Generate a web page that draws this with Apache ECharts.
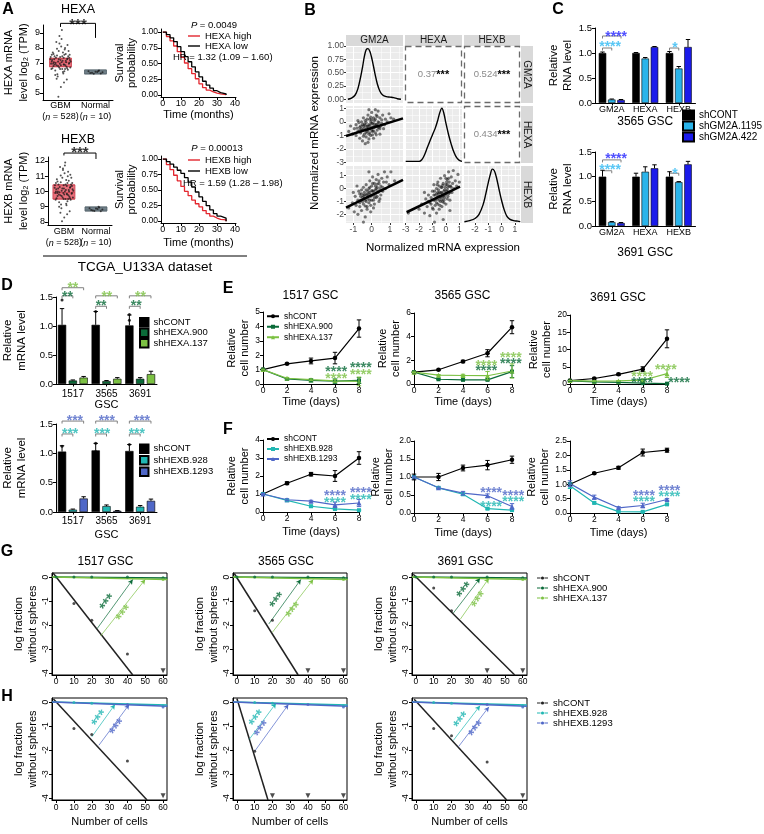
<!DOCTYPE html>
<html><head><meta charset="utf-8">
<script src="https://cdn.jsdelivr.net/npm/echarts@6/dist/echarts.min.js"></script>
<style>html,body{margin:0;padding:0;background:#fff}#c{width:764px;height:834px}</style>
</head><body><div id="c"></div>
<script>
// ======================= DATA =======================
// ---- A: TCGA boxplots ----
const boxCategories = ['GBM', 'Normal'];
const boxCounts = ['528', '10'];
const hexaGbmBox = [6.75, 6.75, 7.05, 7.31, 7.31];
const hexaNormalBox = [6.27, 6.27, 6.4, 6.53, 6.53];
const hexbGbmBox = [9.5, 9.5, 9.92, 10.43, 10.43];
const hexbNormalBox = [8.72, 8.72, 8.84, 8.98, 8.98];
const hexaGbmJitter = [[-0.25,7.1],[0.1,6.9],[0.2,7.3],[-0.1,7.5],[0.05,6.6],[-0.2,6.8],[0.25,7.0],[0,7.2],[-0.05,7.8],[0.15,7.6],[-0.15,6.5],[0.08,6.3],[-0.28,7.4],[0.28,6.7],[0.02,8.1],[-0.12,8.4],[0.18,5.9],[-0.08,6.1],[0.12,7.9],[-0.22,7.7],[0.22,7.45],[-0.02,6.95],[0.06,7.15],[-0.18,7.25],[0.14,6.85],[0.04,9.2],[-0.03,8.8],[0.01,5.4],[-0.06,4.75],[0.1,5.7],[0.2,8.2],[-0.26,6.6],[0.26,7.55],[-0.14,7.0],[0.16,7.05],[-0.04,6.7],[0.09,7.35],[-0.1,7.95],[0.11,6.45],[-0.2,7.6],[0.03,8.6],[-0.09,6.25],[0.24,6.95],[-0.24,7.2],[0.07,7.7],[-0.16,6.9],[0.19,7.25],[-0.01,7.4],[0.13,6.6],[-0.07,7.1],
  [-0.27,6.95],[0.27,7.2],[-0.19,7.05],[0.17,6.75],[-0.11,6.85],[0.05,7.45],[-0.23,6.65],[0.21,6.55],[-0.13,7.35],[0.09,6.9],[-0.01,6.6],[0.29,7.1],[-0.29,7.25],[0.03,7.05],[-0.17,7.45],[0.15,7.15],[-0.07,6.8],[0.25,7.35],[-0.21,6.95],[0.11,7.55],[0.01,6.85],[-0.25,7.55],[0.19,6.65],[-0.05,7.25],[0.07,6.4],[-0.15,6.2],[0.13,8.0],[-0.11,5.95],[0.23,7.8],[-0.03,8.3]];
const hexaNormalJitter = [[-0.1,6.35],[0.05,6.4],[0.15,6.3],[-0.2,6.45],[0.1,6.5],[-0.05,6.28],[0.2,6.38],[0,6.42],[-0.15,6.33],[0.08,6.47]];
const hexbGbmJitter = [[-0.25,10.0],[0.1,9.8],[0.2,10.3],[-0.1,10.6],[0.05,9.5],[-0.2,9.7],[0.25,9.9],[0,10.2],[-0.05,10.9],[0.15,10.7],[-0.15,9.3],[0.08,9.1],[-0.28,10.4],[0.28,9.6],[0.02,11.2],[-0.12,11.6],[0.18,8.7],[-0.08,8.9],[0.12,11.0],[-0.22,10.8],[0.22,10.45],[-0.02,9.9],[0.06,10.1],[-0.18,10.2],[0.14,9.75],[0.04,11.9],[-0.03,11.4],[0.01,8.3],[-0.06,8.05],[0.1,8.5],[0.2,11.1],[-0.26,9.45],[0.26,10.55],[-0.14,9.95],[0.16,10.0],[-0.04,9.6],[0.09,10.35],[-0.1,11.05],[0.11,9.35],[-0.2,10.65],[0.03,11.7],[-0.09,9.15],[0.24,9.85],[-0.24,10.15],[0.07,10.75],[-0.16,9.8],[0.19,10.25],[-0.01,10.4],[0.13,9.5],[-0.07,10.05],
  [-0.27,9.9],[0.27,10.15],[-0.19,10.0],[0.17,9.65],[-0.11,9.75],[0.05,10.45],[-0.23,9.55],[0.21,9.45],[-0.13,10.3],[0.09,9.85],[-0.01,9.5],[0.29,10.05],[-0.29,10.25],[0.03,10.0],[-0.17,10.45],[0.15,10.1],[-0.07,9.7],[0.25,10.35],[-0.21,9.9],[0.11,10.55],[0.01,9.8],[-0.25,10.55],[0.19,9.55],[-0.05,10.2],[0.07,9.2],[-0.15,9.0],[0.13,11.3],[-0.11,8.6],[0.23,10.9],[-0.03,11.5]];
const hexbNormalJitter = [[-0.1,8.75],[0.05,8.85],[0.15,8.7],[-0.2,8.9],[0.1,8.95],[-0.05,8.72],[0.2,8.82],[0,8.88],[-0.15,8.78],[0.08,9.0]];
const hexaBoxTicks = [5, 6, 7, 8, 9];
const hexbBoxTicks = [8, 9, 10, 11, 12];
const hexaBracket = [9.4, 9.64, 8.67];
const hexbBracket = [12.36, 12.52, 12.13];
const hexaStarY = 9.83, hexbStarY = 12.77;
// ---- A: survival ----
const kmTime = [0,2,4,6,8,10,12,14,16,18,20,22,24,26,28,30,32,35];
const hexaHigh = [1,0.93,0.86,0.78,0.69,0.6,0.51,0.42,0.34,0.26,0.18,0.12,0.08,0.05,0.03,0.02,0.01,0];
const hexaLow  = [1,0.96,0.91,0.85,0.77,0.69,0.61,0.53,0.45,0.37,0.29,0.22,0.16,0.11,0.07,0.04,0.02,0];
const hexbHigh = [1,0.91,0.83,0.74,0.65,0.56,0.48,0.41,0.34,0.28,0.23,0.17,0.12,0.08,0.05,0.03,0.02,0];
const hexbLow  = [1,0.96,0.92,0.87,0.82,0.77,0.70,0.63,0.55,0.47,0.39,0.32,0.25,0.18,0.12,0.08,0.05,0];
const survTicksX = [0, 10, 20, 30, 40];
const survTicksY = [0, 0.25, 0.5, 0.75, 1];
// ---- B: pairs ----
const bVars = ['GM2A', 'HEXA', 'HEXB'];
const bXTicks = [[-1,0,1],[-3,-2,-1,0,1],[-2,-1,0,1]];
const bYTicks = [[0,0.25,0.5,0.75,1],[-3,-2,-1,0,1],[-2,-1,0,1]];
const gm2aDensX = [-1.3,-1.1,-0.9,-0.75,-0.6,-0.5,-0.4,-0.3,-0.2,-0.1,0,0.1,0.2,0.3,0.45,0.6,0.8,1.0,1.2,1.4,1.6];
const gm2aDensY = [0,0.02,0.08,0.2,0.42,0.6,0.8,0.93,0.95,0.9,0.78,0.62,0.45,0.3,0.15,0.08,0.05,0.04,0.03,0.01,0];
const hexaDensX = [-3,-2.0,-1.8,-1.6,-1.4,-1.2,-1.0,-0.8,-0.6,-0.45,-0.3,-0.15,0,0.2,0.4,0.6,0.8,1.0,1.2];
const hexaDensY = [0,0,0.03,0.12,0.25,0.38,0.5,0.62,0.78,0.92,1.0,0.9,0.72,0.5,0.32,0.17,0.07,0.02,0];
const hexbDensX = [-2.8,-2.4,-2.0,-1.7,-1.4,-1.2,-1.0,-0.85,-0.7,-0.55,-0.4,-0.2,0,0.2,0.4,0.6,0.9,1.2,1.4];
const hexbDensY = [0,0.02,0.06,0.14,0.32,0.52,0.75,0.9,1.0,0.97,0.85,0.62,0.4,0.22,0.1,0.05,0.02,0.01,0];
const gm2aHexaPts = [[-1.05,-0.9],[-0.95,-0.5],[-0.85,-1.0],[-0.85,-0.2],[-0.75,-0.7],[-0.75,0.1],[-0.65,-0.4],[-0.65,-1.2],[-0.6,-0.8],[-0.55,0.0],[-0.55,-0.5],[-0.5,-1.4],[-0.45,-0.3],[-0.45,0.3],[-0.4,-0.9],[-0.35,-0.6],[-0.35,0.1],[-0.3,-1.1],[-0.25,-0.3],[-0.25,-0.7],[-0.2,0.5],[-0.2,-1.5],[-0.15,-0.2],[-0.15,-0.9],[-0.1,0.2],[-0.1,-0.5],[-0.05,-1.0],[-0.05,0.0],[0,-0.4],[0,0.7],[0.05,-0.7],[0.05,-0.1],[0.1,0.3],[0.1,-1.2],[0.15,-0.4],[0.15,0.1],[0.2,-0.8],[0.25,0.5],[0.25,-0.2],[0.3,-0.6],[0.35,0.0],[0.35,0.8],[0.4,-0.4],[0.45,0.3],[0.45,-0.9],[0.55,-0.1],[0.6,0.5],[0.65,-0.5],[0.75,0.2],[0.85,0.0],[0.95,0.6],[1.05,0.3],[1.2,0.2],[-1.25,-0.7],[-1.15,-0.3],[-0.15,0.9],[-0.35,-1.6],[0.2,0.9],[-0.7,-0.05],[0.5,-0.3],
  [-0.6,-0.3],[-0.5,-0.6],[-0.4,-0.15],[-0.4,-0.45],[-0.3,-0.8],[-0.3,-0.05],[-0.2,-0.35],[-0.2,-0.6],[-0.1,-0.25],[-0.1,-0.8],[0,-0.1],[0,-0.6],[0.1,-0.35],[0.1,-0.65],[0.2,-0.3],[0.2,0.2],[0.3,-0.2],[0.3,0.4],[0.4,-0.05],[0.45,-0.5],[-0.5,-0.2],[-0.65,-0.6],[-0.25,0.2],[-0.05,0.35],[0.05,-0.95],[0.25,-0.95],[-0.45,-1.05],[0.55,0.15],[0.7,-0.2],[-0.8,-0.45],[-0.15,-1.25],[0.0,0.15],[0.35,-0.4],[-0.35,-0.25],[0.15,-0.15],[-0.25,-0.5]];
const gm2aHexbPts = [[-1.25,-1.5],[-1.05,-1.1],[-0.95,-1.8],[-0.9,-0.6],[-0.85,-1.3],[-0.75,-0.9],[-0.75,-2.0],[-0.65,-0.4],[-0.65,-1.4],[-0.6,-0.9],[-0.55,-0.1],[-0.55,-1.7],[-0.5,-0.7],[-0.45,-1.2],[-0.45,0.1],[-0.4,-0.5],[-0.35,-2.2],[-0.35,-0.9],[-0.3,0.3],[-0.25,-0.4],[-0.25,-1.4],[-0.2,-0.8],[-0.15,0.0],[-0.15,-1.1],[-0.1,-0.3],[-0.1,0.6],[-0.05,-0.6],[-0.05,-1.8],[0,0.2],[0,-0.9],[0.05,-0.2],[0.05,0.9],[0.1,-0.5],[0.15,0.4],[0.15,-1.2],[0.2,-0.1],[0.25,0.7],[0.25,-0.7],[0.3,0.1],[0.35,-0.3],[0.35,1.1],[0.4,0.4],[0.45,-0.8],[0.5,0.2],[0.55,0.8],[0.6,-0.2],[0.65,0.5],[0.75,0.0],[0.85,0.9],[0.95,0.3],[1.05,1.3],[1.25,0.6],[-0.45,-2.6],[-0.15,1.3],[-0.8,0.2],[0.1,-1.5],[0.4,-1.0],[-1.0,-0.3],[0.7,1.3],[-0.3,-0.1],
  [-0.6,-0.6],[-0.5,-1.0],[-0.4,-0.3],[-0.4,-0.75],[-0.3,-1.0],[-0.3,-0.5],[-0.2,-0.2],[-0.2,-0.6],[-0.1,-0.9],[-0.1,0.1],[0,-0.5],[0,-0.15],[0.1,-0.2],[0.1,-0.9],[0.2,0.2],[0.2,-0.45],[0.3,-0.6],[0.3,0.35],[0.45,0.0],[0.5,-0.5],[-0.65,-1.1],[-0.55,-0.4],[-0.25,-1.6],[0.05,0.4],[0.4,0.6],[0.6,0.1],[-0.7,-0.2],[-0.15,-0.4],[0.15,-0.7],[0.25,0.0],[-0.35,-1.35],[0.55,-0.15],[0.8,0.5],[-0.05,-1.3],[-0.45,-0.55],[0.35,-0.2]];
const hexaHexbPts = [[-2.8,-1.9],[-2.0,-1.6],[-1.8,-1.2],[-1.6,-1.9],[-1.5,-0.8],[-1.4,-1.4],[-1.3,-0.5],[-1.2,-1.1],[-1.2,-2.1],[-1.1,-0.7],[-1.0,-1.5],[-1.0,-0.2],[-0.9,-0.9],[-0.9,0.3],[-0.8,-1.3],[-0.8,-0.5],[-0.7,-1.9],[-0.7,0.0],[-0.65,-0.8],[-0.6,-1.2],[-0.6,0.5],[-0.55,-0.4],[-0.5,-1.6],[-0.5,0.2],[-0.45,-0.7],[-0.4,-1.0],[-0.4,0.8],[-0.35,-0.3],[-0.3,-1.4],[-0.3,0.1],[-0.25,-0.6],[-0.2,0.4],[-0.2,-2.4],[-0.15,-0.9],[-0.1,-0.1],[-0.1,1.0],[-0.05,-0.5],[0,0.3],[0,-1.2],[0.05,-0.2],[0.1,0.7],[0.1,-0.8],[0.15,0.1],[0.2,-0.4],[0.2,1.3],[0.25,0.5],[0.3,-0.9],[0.35,0.2],[0.4,0.9],[0.45,-0.3],[0.5,0.4],[0.55,1.4],[0.6,0.0],[0.7,0.6],[0.8,0.2],[0.9,1.1],[1.0,0.5],[-1.6,-0.3],[0.3,-1.7],[-0.85,-2.6],
  [-0.9,-0.5],[-0.8,-0.9],[-0.7,-0.4],[-0.7,-1.1],[-0.6,-0.6],[-0.55,-0.1],[-0.5,-0.9],[-0.45,-0.3],[-0.4,-0.6],[-0.35,0.1],[-0.3,-0.8],[-0.3,-0.35],[-0.25,0.25],[-0.2,-0.55],[-0.15,-0.2],[-0.1,-0.7],[-0.05,0.1],[0,-0.4],[0.05,0.5],[0.1,-0.1],[0.15,-0.6],[0.25,0.2],[0.3,-0.3],[-1.1,-1.2],[-1.3,-1.0],[-0.95,-1.6],[-0.65,0.3],[-0.15,-1.1],[0.2,0.8],[0.4,0.1],[-0.45,-1.3],[-0.85,-0.2],[0.0,0.8],[-0.25,-1.0],[0.1,0.3],[-0.6,-0.3]];
const gm2aHexaFit = [[-1.4,-1.04],[1.71,0.26]];
const gm2aHexbFit = [[-1.4,-1.48],[1.71,0.67]];
const hexaHexbFit = [[-2.93,-1.84],[1.05,0.15]];
const bCorr = [['0.37', 0, 1], ['0.524', 0, 2], ['0.434', 1, 2]];
// ---- C: qPCR shGM2A ----
const cCategories = ['GM2A', 'HEXA', 'HEXB'];
const c3565Cont = [1.0, 1.0, 1.0], c3565ContErr = [0.02, 0.01, 0.03];
const c3565Sh1195 = [0.07, 0.89, 0.69], c3565Sh1195Err = [0.01, 0.02, 0.04];
const c3565Sh422 = [0.06, 1.12, 1.12], c3565Sh422Err = [0.01, 0.01, 0.15];
const c3691Cont = [1.0, 1.0, 1.0], c3691ContErr = [0.13, 0.07, 0.1];
const c3691Sh1195 = [0.08, 1.1, 0.89], c3691Sh1195Err = [0.01, 0.1, 0.01];
const c3691Sh422 = [0.06, 1.17, 1.25], c3691Sh422Err = [0.01, 0.07, 0.06];
const c3565Brackets = [[0, 0, 2, 1.34], [0, 0, 1, 1.10], [2, 0, 1, 1.10]];
const c3691Brackets = [[0, 0, 2, 1.34], [0, 0, 1, 1.12], [2, 0, 1, 1.07]];
const c3565StarsBlue = [[0.63, 1.40, '****']];
const c3565StarsLight = [[0.45, 1.20, '****'], [2.39, 1.18, '*']];
const c3691StarsBlue = [[0.63, 1.44, '****']];
const c3691StarsLight = [[0.45, 1.20, '****'], [2.39, 1.13, '*']];
// ---- D: qPCR shHEXA / shHEXB ----
const dGsc = ['1517', '3565', '3691'];
const dHexaCont = [1.02, 1.02, 1.01], dHexaContErr = [0.28, 0.23, 0.18];
const dHexa900 = [0.06, 0.05, 0.09], dHexa900Err = [0.01, 0.01, 0.02];
const dHexa137 = [0.11, 0.09, 0.17], dHexa137Err = [0.02, 0.02, 0.05];
const dHexaContReps = [[1.45, 0.85, 0.76], [1.25, 0.95, 0.86], [1.2, 1.1, 0.73]];
const dHexbCont = [1.03, 1.05, 1.04], dHexbContErr = [0.1, 0.12, 0.11];
const dHexb928 = [0.04, 0.10, 0.09], dHexb928Err = [0.01, 0.02, 0.02];
const dHexb1293 = [0.23, 0.02, 0.19], dHexb1293Err = [0.03, 0.005, 0.03];
const dHexbContReps = [[1.12, 1.0, 0.97], [1.17, 1.03, 0.95], [1.15, 1.0, 0.97]];
const dHexaBrackets = [[0,0,1,1.52],[0,0,2,1.66],[1,0,1,1.34],[1,0,2,1.52],[2,0,1,1.34],[2,0,2,1.52]];
const dHexaStarsDark = [[0.34,1.57,'**'],[1.34,1.40,'**'],[2.38,1.40,'**']];
const dHexaStarsLight = [[0.5,1.72,'**'],[1.51,1.57,'**'],[2.51,1.57,'**']];
const dHexbBrackets = [[0,0,1,1.33],[0,0,2,1.55],[1,0,1,1.33],[1,0,2,1.55],[2,0,1,1.33],[2,0,2,1.55]];
const dHexbStarsTeal = [[0.42,1.40,'***'],[1.37,1.40,'***'],[2.4,1.40,'***']];
const dHexbStarsBlue = [[0.56,1.62,'***'],[1.51,1.62,'***'],[2.55,1.62,'***']];
// ---- E / F: growth ----
const days = [0, 2, 4, 6, 8];
const e1517Cont = [1, 1.4, 1.6, 1.8, 3.85], e1517ContErr = [0.03, 0.05, 0.2, 0.4, 0.6];
const e1517H900 = [1, 0.35, 0.25, 0.2, 0.25], e1517H900Err = [0.03, 0.05, 0.1, 0.15, 0.2];
const e1517H137 = [1, 0.4, 0.3, 0.22, 0.18], e1517H137Err = [0.03, 0.05, 0.05, 0.1, 0.3];
const e3565Cont = [1, 1.2, 1.9, 2.6, 4.8], e3565ContErr = [0.05, 0.05, 0.1, 0.3, 0.55];
const e3565H900 = [1, 0.4, 0.35, 0.35, 1.05], e3565H900Err = [0.03, 0.03, 0.03, 0.05, 0.5];
const e3565H137 = [1, 0.75, 0.72, 0.7, 1.1], e3565H137Err = [0.03, 0.05, 0.1, 0.35, 0.6];
const e3691Cont = [1, 1.6, 2.8, 4.3, 13.1], e3691ContErr = [0.15, 0.2, 0.3, 0.7, 2.6];
const e3691H900 = [0.9, 0.6, 0.45, 0.25, 0.1], e3691H900Err = [0.05, 0.05, 0.05, 0.05, 0.05];
const e3691H137 = [1, 0.85, 0.9, 1.1, 3.0], e3691H137Err = [0.05, 0.1, 0.1, 0.3, 1.1];
const f1517Cont = [1, 1.6, 2.1, 2.0, 3.0], f1517ContErr = [0.03, 0.08, 0.1, 0.3, 0.35];
const f1517H928 = [1, 0.65, 0.32, 0.17, 0.1], f1517H928Err = [0.03, 0.05, 0.05, 0.05, 0.03];
const f1517H1293 = [1, 0.68, 0.6, 0.4, 0.5], f1517H1293Err = [0.03, 0.05, 0.05, 0.15, 0.2];
const f3565Cont = [1, 1.0, 1.25, 1.33, 1.48], f3565ContErr = [0.08, 0.1, 0.08, 0.13, 0.1];
const f3565H928 = [1, 0.7, 0.52, 0.12, 0.08], f3565H928Err = [0.02, 0.02, 0.03, 0.02, 0.02];
const f3565H1293 = [1, 0.7, 0.55, 0.48, 0.18], f3565H1293Err = [0.02, 0.02, 0.05, 0.05, 0.08];
const f3691Cont = [1, 1.38, 1.57, 2.1, 2.18], f3691ContErr = [0.06, 0.03, 0.05, 0.12, 0.07];
const f3691H928 = [0.95, 0.35, 0.05, 0.04, 0.3], f3691H928Err = [0.1, 0.03, 0.02, 0.02, 0.02];
const f3691H1293 = [1.02, 0.55, 0.18, 0.26, 0.47], f3691H1293Err = [0.1, 0.07, 0.04, 0.08, 0.03];
const e1517StarsA = [[6.1, 1.11], [8.15, 1.39]], e1517StarsB = [[6.1, 0.63], [8.15, 0.9]];
const e3565StarsA = [[5.9, 1.44], [7.9, 2.03]], e3565StarsB = [[5.9, 1.86], [7.9, 2.54]];
const e3691StarsA = [[5.95, 1.45], [9.0, 1.45]], e3691StarsB = [[5.95, 3.2], [7.9, 5.2]];
const f1517StarsA = [[6.0, 0.72], [8.15, 0.89]], f1517StarsB = [[6.0, 1.11], [8.15, 1.28]];
const f3565StarsA = [[6.3, 0.28], [8.1, 0.42]], f3565StarsB = [[6.3, 0.67], [8.1, 0.58]];
const f3691StarsA = [[6.1, 0.52], [8.2, 0.69]], f3691StarsB = [[6.1, 0.73], [8.2, 0.9]];
// ---- G / H: limiting dilution ----
const ldaTicksX = [0, 10, 20, 30, 40, 50, 60];
const ldaTicksY = [0, -1, -2, -3, -4];
const g1517ContFit = [[-1.7, 0.17], [43, -4.08]], g1517ContPts = [[10, -1.1], [20, -1.8], [40, -3.2]], g1517ContCens = [[60, -3.9]];
const g3565ContFit = [[-1.5, 0.15], [34.5, -4.08]], g3565ContPts = [[10, -1.4], [20, -1.8]], g3565ContCens = [[40, -3.9], [60, -3.9]];
const g3691ContFit = [[-1.5, 0.12], [55.5, -4.08]], g3691ContPts = [[10, -0.45], [20, -1.4]], g3691ContCens = [[40, -3.9], [60, -3.9]];
const gH900Fit = [[-2.2, 0.0], [62.4, -0.04]], gH900Pts = [[0, 0], [10, 0], [20, 0], [40, 0], [60, -0.03]];
const gH137Fit = [[-2.2, 0.0], [62.4, -0.1]], gH137Pts = [[60, -0.1]];
const g1517Conn900 = [[23, -2.15], [43, -0.1]], g1517Conn137 = [[25, -2.45], [50, -0.1]];
const g3565Conn900 = [[18, -1.95], [36, -0.1]], g3565Conn137 = [[20, -2.3], [43, -0.1]];
const g3691Conn900 = [[21, -1.5], [36, -0.05]], g3691Conn137 = [[25, -1.75], [41, -0.05]];
const g1517Stars = [[29.2, -1.08], [38.5, -1.54]];
const g3565Stars = [[23.3, -1.0], [32.5, -1.42]];
const g3691Stars = [[27.8, -0.58], [36, -0.98]];
const h1517ContFit = [[-1.5, 0.13], [51, -4.08]], h1517ContPts = [[10, -1.1], [20, -1.35], [40, -2.45]], h1517ContCens = [[60, -3.9]];
const h3565ContFit = [[0, 0.15], [17.5, -4.08]], h3565ContPts = [[10, -2.05]], h3565ContCens = [[20, -3.9], [40, -3.9], [60, -3.9]];
const h3691ContFit = [[-1, 0.12], [51, -4.08]], h3691ContPts = [[10, -1.1], [20, -1.4], [40, -2.5]], h3691ContCens = [[60, -3.9]];
const hH928Fit = [[-2.2, 0.0], [62.4, -0.12]], hH928Pts = [[10, -0.02], [20, -0.05], [60, -0.15]];
const hH1293Fit = [[-2.2, 0.0], [62.4, -0.17]], hH1293Pts = [[40, -0.1], [60, -0.2]];
const h1517Conn928 = [[20, -1.45], [33, -0.1]], h1517Conn1293 = [[24, -1.8], [41, -0.1]];
const h3565Conn928 = [[7, -1.55], [22, -0.05]], h3565Conn1293 = [[10, -2.05], [29, -0.1]];
const h3691Conn928 = [[21, -1.6], [36, -0.15]], h3691Conn1293 = [[24, -1.85], [41, -0.2]];
const h1517Stars = [[24.7, -0.7], [34.8, -1.07]];
const h3565Stars = [[11.7, -0.7], [14.5, -1.15]];
const h3691Stars = [[26, -0.78], [34.5, -1.15]];

// ======================= STYLE / BUILD =======================
const FONT = '"Liberation Sans", Arial, Helvetica, sans-serif';
const COL = {red:'#e3262e', lb:'#2ab4ea', blue:'#1b1bea', lbStar:'#2fb9f2', blueStar:'#2424ff', dg:'#0b6b39', lg:'#7cc143', teal:'#21b7b3', vio:'#4f67c7', gray:'#7f7f7f', cont:'#222'};
const grid = [], xAxis = [], yAxis = [], series = [], graphic = [], legend = [];
const addGrid = g => (grid.push(Object.assign({containLabel:false}, g)), grid.length - 1);
const addX = a => (xAxis.push(a), xAxis.length - 1);
const addY = a => (yAxis.push(a), yAxis.length - 1);
function merge(a, b) {
  for (const k in b) {
    if (b[k] && typeof b[k] === 'object' && !Array.isArray(b[k]) && a[k] && typeof a[k] === 'object' && !Array.isArray(a[k])) merge(a[k], b[k]);
    else a[k] = b[k];
  }
  return a;
}
function vAxis(gi, min, max, o) {
  return merge({type:'value', gridIndex:gi, min, max,
    axisLine:{show:true, onZero:false, lineStyle:{color:'#000', width:1}},
    axisTick:{show:true, length:3, lineStyle:{color:'#000', width:1}},
    axisLabel:{fontSize:8.5, color:'#000', margin:3, fontFamily:FONT},
    nameTextStyle:{fontSize:11, color:'#000', fontFamily:FONT},
    splitLine:{show:false}}, o || {});
}
function cAxis(gi, data, o) {
  return merge({type:'category', gridIndex:gi, data, boundaryGap:true,
    axisLine:{show:true, onZero:false, lineStyle:{color:'#000', width:1}},
    axisTick:{show:true, length:3, alignWithLabel:true, lineStyle:{color:'#000'}},
    axisLabel:{fontSize:9, color:'#000', margin:3, fontFamily:FONT, interval:0},
    nameTextStyle:{fontSize:11, color:'#000', fontFamily:FONT},
    splitLine:{show:false}}, o || {});
}
const hidden = (gi, min, max) => ({type:'value', gridIndex:gi, min, max, show:false});
function text(x, y, str, size, o) {
  o = o || {};
  const st = {text:str, fill:o.color || '#000', font:(o.style || 'normal') + ' ' + (o.weight || 'normal') + ' ' + size + 'px ' + FONT,
    textAlign:o.align || 'center', textVerticalAlign:o.valign || 'middle', align:o.align || 'center', verticalAlign:o.valign || 'middle'};
  if (o.rich) st.rich = o.rich;
  graphic.push({type:'text', silent:true, z:100, x, y, rotation:o.rotation || 0, style:st});
}
function errSeries(xi, yi, pts, color, both, cap) {
  return {type:'custom', xAxisIndex:xi, yAxisIndex:yi, clip:false, silent:true, z:6, data:pts,
    renderItem: (params, api) => {
      const x = api.value(0), m = api.value(1), e = api.value(2);
      const t = api.coord([x, m + e]), b = api.coord([x, both ? m - e : m]);
      const ch = [
        {type:'line', shape:{x1:t[0], y1:t[1], x2:b[0], y2:b[1]}, style:{stroke:color, lineWidth:1}},
        {type:'line', shape:{x1:t[0] - cap, y1:t[1], x2:t[0] + cap, y2:t[1]}, style:{stroke:color, lineWidth:1}}];
      if (both) ch.push({type:'line', shape:{x1:b[0] - cap, y1:b[1], x2:b[0] + cap, y2:b[1]}, style:{stroke:color, lineWidth:1}});
      return {type:'group', children:ch};
    }};
}
function starSeries(xi, yi, pts, txt, color, size, rotate) {
  return {type:'scatter', xAxisIndex:xi, yAxisIndex:yi, clip:false, silent:true, z:10, symbolSize:1,
    itemStyle:{color:'rgba(0,0,0,0)'},
    data:pts.map(p => ({value:[p[0], p[1]], label:{formatter:p[2] || txt}})),
    label:{show:true, position:'inside', color, fontSize:size, fontWeight:'bold', fontFamily:FONT,
      offset:[0, rotate ? 0 : size * 0.27], rotate:rotate || 0}};
}
function pathLine(xi, yi, pts, color, width, z) {
  return {type:'line', xAxisIndex:xi, yAxisIndex:yi, clip:false, silent:true, symbol:'none', z:z || 5,
    lineStyle:{color, width}, itemStyle:{color}, data:pts};
}
function addLegend(o) {
  legend.push(merge({orient:'vertical', selectedMode:false, padding:0, itemGap:0,
    textStyle:{fontFamily:FONT, color:'#000', fontSize:9},
    formatter:n => n.replace(/\u200b/g, '')}, o));
}
const ZW = n => '\u200b'.repeat(n);
const lineIcon = 'path://M0,0L12,0L12,1.4L0,1.4Z';

// ---------------- Panel A ----------------
function boxPanel(c) {
  const g = addGrid({left:c.left, top:c.top, width:70, height:c.height});
  const xc = addX(cAxis(g, boxCategories, {axisTick:{show:false},
    axisLabel:{margin:c.lm, fontSize:9, lineHeight:11,
      formatter:(v, i) => v + '\n({i|n} = ' + boxCounts[i] + ')',
      rich:{i:{fontStyle:'italic', fontSize:9, lineHeight:11, fontFamily:FONT, color:'#000'}}}}));
  const xv = addX(hidden(g, 0, 2));
  const y = addY(vAxis(g, c.ymin, c.ymax, {axisLabel:{customValues:c.ticks, fontSize:9}, axisTick:{customValues:c.ticks},
    name:c.yname, nameLocation:'middle', nameGap:11, nameTextStyle:{fontSize:11, lineHeight:15}}));
  series.push({type:'boxplot', xAxisIndex:xc, yAxisIndex:y, boxWidth:[22, 22], z:2, silent:true,
    data:[{value:c.gbm, itemStyle:{color:'#ea6f7b', borderColor:'#cc3f4c', borderWidth:0.8}},
          {value:c.normal, itemStyle:{color:'#7f8f99', borderColor:'#56646c', borderWidth:0.8}}]});
  series.push({type:'scatter', xAxisIndex:xv, yAxisIndex:y, symbolSize:2, silent:true, z:3,
    itemStyle:{color:'#1a1a1a', opacity:0.75},
    data:c.gbmJ.map(p => [0.5 + p[0], p[1]]).concat(c.normJ.map(p => [1.5 + p[0], p[1]]))});
  series.push(pathLine(xv, y, [[0.5, c.br[0]], [0.5, c.br[1]], [1.5, c.br[1]], [1.5, c.br[2]]], '#000', 1));
  series.push(starSeries(xv, y, [[1.0, c.star]], '***', '#000', 15));
  text(78, c.titleY, c.title, 12.5);
}
boxPanel({left:43, top:25, height:75, ymin:4.53, ymax:9.53, ticks:hexaBoxTicks, gbm:hexaGbmBox, normal:hexaNormalBox,
  gbmJ:hexaGbmJitter, normJ:hexaNormalJitter, br:hexaBracket, star:hexaStarY, title:'HEXA', titleY:10, lm:0.5,
  yname:'HEXA mRNA\nlevel log\u2082 (TPM)'});
boxPanel({left:42, top:157, height:68, ymin:7.8, ymax:12.26, ticks:hexbBoxTicks, gbm:hexbGbmBox, normal:hexbNormalBox,
  gbmJ:hexbGbmJitter, normJ:hexbNormalJitter, br:hexbBracket, star:hexbStarY, title:'HEXB', titleY:140, lm:1.5,
  yname:'HEXB mRNA\nlevel log\u2082 (TPM)'});

function survPanel(c) {
  const g = addGrid({left:161, top:c.top, width:75, height:c.height});
  const x = addX(vAxis(g, -1, 40.5, {axisLabel:{customValues:survTicksX, margin:2.5, fontSize:9}, axisTick:{customValues:survTicksX},
    name:'Time (months)', nameLocation:'middle', nameGap:c.xgap}));
  const y = addY(vAxis(g, -0.03, 1.05, {axisLabel:{customValues:survTicksY, fontSize:8.5, formatter:v => v.toFixed(2)}, axisTick:{customValues:survTicksY},
    name:'Survival\nprobability', nameLocation:'middle', nameGap:21, nameTextStyle:{lineHeight:12}}));
  series.push({type:'line', name:c.names[0], xAxisIndex:x, yAxisIndex:y, step:'end', symbol:'none', silent:true,
    data:kmTime.map((t, i) => [t, c.high[i]]), lineStyle:{color:COL.red, width:1.3}, itemStyle:{color:COL.red}});
  series.push({type:'line', name:c.names[1], xAxisIndex:x, yAxisIndex:y, step:'end', symbol:'none', silent:true,
    data:kmTime.map((t, i) => [t, c.low[i]]), lineStyle:{color:'#000', width:1.3}, itemStyle:{color:'#000'}});
  addLegend({left:188, top:c.legTop, itemWidth:12, itemHeight:1.4, icon:lineIcon, data:c.names, textStyle:{fontSize:9.5, lineHeight:c.pitch}});
  text(c.pX, c.pY, '{i|P} = ' + c.p, 9.5, {rich:{i:{fontStyle:'italic', fontSize:9.5, fontFamily:FONT}}});
  text(c.hrX, c.hrY, c.hr, 9.5, {align:'left'});
}
survPanel({top:29, height:68, xgap:12.5, high:hexaHigh, low:hexaLow, names:['HEXA high', 'HEXA low'], legTop:31, pitch:10,
  p:'0.0049', pX:214, pY:25, hr:'HR = 1.32 (1.09 \u2013 1.60)', hrX:173, hrY:57});
survPanel({top:156, height:67, xgap:14.5, high:hexbHigh, low:hexbLow, names:['HEXB high', 'HEXB low'], legTop:154.5, pitch:11,
  p:'0.00013', pX:217, pY:148, hr:'HR = 1.59 (1.28 \u2013 1.98)', hrX:183, hrY:183});
graphic.push({type:'line', silent:true, shape:{x1:43, y1:256, x2:247, y2:256}, style:{stroke:'#000', lineWidth:1}});
text(145, 267, 'TCGA_U133A dataset', 13.5);

// ---------------- Panel B ----------------
const bColLeft = [346, 405, 464], bColW = [57, 57, 56], bRowTop = [46, 106, 166], bRowH = [57, 57, 57];
const bColX = [[-1.4, 1.71], [-3.05, 1.2], [-2.83, 1.38]];
const bRowY = [[-0.07, 1.0], [-3.02, 1.17], [-2.67, 1.75]];
function minors(t, r) { const s = t[1] - t[0], out = []; for (let v = t[0] - s / 2; v <= r[1]; v += s) if (v >= r[0]) out.push(v); return out; }
function bPanel(r, c) {
  const g = addGrid({left:bColLeft[c], top:bRowTop[r], width:bColW[c], height:bRowH[r], show:true, backgroundColor:'#ebebeb', borderWidth:0});
  const xr = bColX[c], yr = bRowY[r];
  const lab = {color:'#4d4d4d', fontSize:8.5, fontFamily:FONT, margin:2};
  const x = addX({type:'value', gridIndex:g, min:xr[0], max:xr[1], position:'bottom',
    axisLine:{show:false, onZero:false}, axisTick:{show:r === 2, length:2, customValues:bXTicks[c], lineStyle:{color:'#333'}},
    axisLabel:Object.assign({show:r === 2, customValues:bXTicks[c]}, lab), splitLine:{show:true, lineStyle:{color:'#fff', width:1}}, z:1});
  const mx = minors(bXTicks[c], xr);
  addX({type:'value', gridIndex:g, min:xr[0], max:xr[1], position:'top',
    axisLine:{show:false, onZero:false}, axisTick:{show:false, customValues:mx}, axisLabel:{show:false, customValues:mx},
    splitLine:{show:true, lineStyle:{color:'#fff', width:0.5}}});
  const y = addY({type:'value', gridIndex:g, min:yr[0], max:yr[1], position:'left',
    axisLine:{show:false, onZero:false}, axisTick:{show:c === 0, length:2, customValues:bYTicks[r], lineStyle:{color:'#333'}},
    axisLabel:Object.assign({show:c === 0, customValues:bYTicks[r], formatter: r === 0 ? (v => v.toFixed(2)) : (v => String(v))}, lab),
    splitLine:{show:true, lineStyle:{color:'#fff', width:1}}});
  const my = minors(bYTicks[r], yr);
  addY({type:'value', gridIndex:g, min:yr[0], max:yr[1], position:'right',
    axisLine:{show:false, onZero:false}, axisTick:{show:false, customValues:my}, axisLabel:{show:false, customValues:my},
    splitLine:{show:true, lineStyle:{color:'#fff', width:0.5}}});
  return {g, x, y};
}
const B00 = bPanel(0, 0), B10 = bPanel(1, 0), B20 = bPanel(2, 0), B11 = bPanel(1, 1), B21 = bPanel(2, 1), B22 = bPanel(2, 2);
const densLine = (xi, yi, xs, ys) => ({type:'line', xAxisIndex:xi, yAxisIndex:yi, smooth:0.35, symbol:'none', silent:true, z:4,
  lineStyle:{color:'#000', width:1.4}, data:xs.map((v, i) => [v, ys[i]])});
series.push(densLine(B00.x, B00.y, gm2aDensX, gm2aDensY));
series.push(densLine(B11.x, addY(hidden(B11.g, -0.03, 1.04)), hexaDensX, hexaDensY));
series.push(densLine(B22.x, addY(hidden(B22.g, -0.025, 1.06)), hexbDensX, hexbDensY));
[[B10, gm2aHexaPts, gm2aHexaFit], [B20, gm2aHexbPts, gm2aHexbFit], [B21, hexaHexbPts, hexaHexbFit]].forEach(([P, pts, fit]) => {
  series.push({type:'scatter', xAxisIndex:P.x, yAxisIndex:P.y, symbolSize:3.2, silent:true, z:3, itemStyle:{color:'#111', opacity:0.55}, data:pts});
  series.push(pathLine(P.x, P.y, fit, '#000', 2.6, 4));
});
bCorr.forEach(([v, r, c]) => {
  graphic.push({type:'rect', silent:true, z:1, shape:{x:bColLeft[c] + 0.5, y:bRowTop[r] + 0.5, width:bColW[c] - 1, height:bRowH[r] - 1},
    style:{fill:'#fff', stroke:'#6b6b6b', lineWidth:1.3, lineDash:[6, 4]}});
  text(bColLeft[c] + bColW[c] / 2, bRowTop[r] + bRowH[r] / 2, '{g|' + v + '}{s|***}', 9.5,
    {rich:{g:{fill:'#8a8a8a', color:'#8a8a8a', fontSize:9.5, fontFamily:FONT}, s:{fill:'#000', color:'#000', fontSize:11, fontWeight:'bold', fontFamily:FONT}}});
});
bVars.forEach((v, i) => {
  graphic.push({type:'rect', silent:true, shape:{x:bColLeft[i], y:35, width:bColW[i], height:11}, style:{fill:'#d9d9d9'}});
  text(bColLeft[i] + bColW[i] / 2, 40.5, v, 10, {color:'#1a1a1a'});
  graphic.push({type:'rect', silent:true, shape:{x:521, y:bRowTop[i], width:12, height:bRowH[i]}, style:{fill:'#d9d9d9'}});
  text(527, bRowTop[i] + bRowH[i] / 2, v, 10, {color:'#1a1a1a', rotation:-Math.PI / 2});
});
text(315, 133, 'Normalized mRNA expression', 11.5, {rotation:Math.PI / 2});
text(443, 248, 'Normalized mRNA expression', 11.5);

// ---------------- Bar panels (C, D) ----------------
function barPanel(c) {
  const g = addGrid({left:c.left, top:c.top, width:c.width, height:c.height});
  const xc = addX(cAxis(g, c.cats, {axisTick:{length:2.5}, axisLabel:{fontSize:c.xfs, margin:c.xm},
    name:c.xname, nameLocation:'middle', nameGap:c.xgap, nameTextStyle:{fontSize:c.xnfs}}));
  const xv = addX(hidden(g, 0, c.cats.length));
  const y = addY(vAxis(g, 0, 1.5, {interval:0.5, axisLabel:{fontSize:9.5, formatter:v => v.toFixed(1)},
    name:c.yname, nameLocation:'middle', nameGap:c.ygap, nameTextStyle:{fontSize:11.5, lineHeight:14}}));
  const band = c.width / c.cats.length, step = (c.barW + c.gapPx) / band;
  const off = k => (k - 1) * step;
  c.bars.forEach((b, k) => {
    series.push({type:'bar', name:b.name, xAxisIndex:xc, yAxisIndex:y, data:b.vals, barWidth:c.barW,
      barGap:(c.gapPx / c.barW * 100).toFixed(1) + '%', silent:true, z:2,
      itemStyle:{color:b.color, borderColor:'#000', borderWidth:0.6}});
    series.push(errSeries(xv, y, b.vals.map((v, i) => [i + 0.5 + off(k), v, b.errs[i]]), '#000', false, 2.2));
  });
  if (c.reps) series.push({type:'scatter', xAxisIndex:xv, yAxisIndex:y, symbolSize:3, silent:true, z:7, itemStyle:{color:'#000'},
    data:c.reps.flatMap((r, i) => r.map(v => [i + 0.5 + off(0), v]))});
  const leg = 2.5 * 1.5 / c.height;
  c.brackets.forEach(br => {
    const x1 = br[0] + 0.5 + off(br[1]), x2 = br[0] + 0.5 + off(br[2]);
    series.push(pathLine(xv, y, [[x1, br[3] - leg], [x1, br[3]], [x2, br[3]], [x2, br[3] - leg]], COL.gray, 1));
  });
  c.stars.forEach(s => series.push(starSeries(xv, y, s.pts, '', s.color, 14)));
  if (c.legTop !== undefined) addLegend({left:c.legLeft, top:c.legTop, itemWidth:c.legW, itemHeight:c.legH, icon:'rect', data:c.bars.map(b => b.name),
    textStyle:{fontSize:c.legFs, lineHeight:c.legPitch}});
}
barPanel({left:595, top:28, width:100.5, height:75, cats:cCategories, xfs:9, xm:2.5, xname:'3565 GSC', xgap:9, xnfs:12,
  yname:'Relative\nRNA level', ygap:16, barW:7.5, gapPx:1.75,
  bars:[{name:'shCONT', vals:c3565Cont, errs:c3565ContErr, color:'#000'},
        {name:'shGM2A.1195', vals:c3565Sh1195, errs:c3565Sh1195Err, color:COL.lb},
        {name:'shGM2A.422', vals:c3565Sh422, errs:c3565Sh422Err, color:COL.blue}],
  brackets:c3565Brackets, stars:[{pts:c3565StarsBlue, color:COL.blueStar}, {pts:c3565StarsLight, color:COL.lbStar}],
  legLeft:682, legTop:109.5, legW:11, legH:9, legFs:10, legPitch:11});
barPanel({left:595, top:152, width:100.5, height:74, cats:cCategories, xfs:9, xm:2.5, xname:'3691 GSC', xgap:20.5, xnfs:12,
  yname:'Relative\nRNA level', ygap:16, barW:7.5, gapPx:1.75,
  bars:[{name:'shCONT' + ZW(1), vals:c3691Cont, errs:c3691ContErr, color:'#000'},
        {name:'shGM2A.1195' + ZW(1), vals:c3691Sh1195, errs:c3691Sh1195Err, color:COL.lb},
        {name:'shGM2A.422' + ZW(1), vals:c3691Sh422, errs:c3691Sh422Err, color:COL.blue}],
  brackets:c3691Brackets, stars:[{pts:c3691StarsBlue, color:COL.blueStar}, {pts:c3691StarsLight, color:COL.lbStar}]});
barPanel({left:56, top:297, width:101, height:87, cats:dGsc, xfs:10, xm:5, xname:'GSC', xgap:15.5, xnfs:11,
  yname:'Relative\nmRNA level', ygap:27, barW:8.3, gapPx:2.5, reps:dHexaContReps,
  bars:[{name:'shCONT' + ZW(2), vals:dHexaCont, errs:dHexaContErr, color:'#000'},
        {name:'shHEXA.900', vals:dHexa900, errs:dHexa900Err, color:COL.dg},
        {name:'shHEXA.137', vals:dHexa137, errs:dHexa137Err, color:COL.lg}],
  brackets:dHexaBrackets, stars:[{pts:dHexaStarsDark, color:COL.dg}, {pts:dHexaStarsLight, color:COL.lg}],
  legLeft:139, legTop:317, legW:8.5, legH:8.5, legFs:9.5, legPitch:10.5});
barPanel({left:56, top:424, width:101, height:88, cats:dGsc, xfs:10, xm:4.5, xname:'GSC', xgap:17.5, xnfs:11,
  yname:'Relative\nmRNA level', ygap:27, barW:8.3, gapPx:2.5, reps:dHexbContReps,
  bars:[{name:'shCONT' + ZW(3), vals:dHexbCont, errs:dHexbContErr, color:'#000'},
        {name:'shHEXB.928', vals:dHexb928, errs:dHexb928Err, color:COL.teal},
        {name:'shHEXB.1293', vals:dHexb1293, errs:dHexb1293Err, color:COL.vio}],
  brackets:dHexbBrackets, stars:[{pts:dHexbStarsTeal, color:COL.teal}, {pts:dHexbStarsBlue, color:COL.vio}],
  legLeft:139, legTop:443, legW:8.5, legH:8.5, legFs:9.5, legPitch:11.5});

// ---------------- Growth panels (E, F) ----------------
function growthPanel(c) {
  const g = addGrid({left:c.left, top:c.top, width:c.width, height:c.height});
  const x = addX(vAxis(g, 0, 8, {interval:2, axisLabel:{margin:2}, name:'Time (days)', nameLocation:'middle', nameGap:c.xgap}));
  const y = addY(vAxis(g, 0, c.ymax, {interval:c.interval, axisLabel:{formatter:c.fmt},
    name:'Relative\ncell number', nameLocation:'middle', nameGap:c.ygap, nameTextStyle:{lineHeight:13}}));
  c.lines.forEach(l => {
    series.push({type:'line', name:l.name, xAxisIndex:x, yAxisIndex:y, clip:false, silent:true, z:3,
      data:days.map((d, i) => [d, l.vals[i]]), symbol:l.symbol, symbolSize:l.size, showAllSymbol:true,
      lineStyle:{color:l.color, width:1.2}, itemStyle:{color:l.color}});
    series.push(errSeries(x, y, days.map((d, i) => [d, l.vals[i], l.errs[i]]), l.color, true, 2.2));
  });
  series.push(starSeries(x, y, c.starsA, '****', c.colA, 14));
  series.push(starSeries(x, y, c.starsB, '****', c.colB, 14));
  if (c.title) text(c.left + c.width / 2 - 0.5, c.titleY, c.title, 12);
  if (c.legTop) addLegend({left:266, top:c.legTop, itemWidth:12, itemHeight:5, data:c.lines.map(l => l.name),
    textStyle:{fontSize:8.5, lineHeight:c.legPitch}});
}
const intFmt = v => String(v), oneFmt = v => v.toFixed(1);
const hexaLines = (cont, ce, a, ae, b, be, z) => [
  {name:'shCONT' + ZW(z), vals:cont, errs:ce, color:'#000', symbol:'circle', size:4.5},
  {name:'shHEXA.900' + ZW(z), vals:a, errs:ae, color:COL.dg, symbol:'rect', size:4},
  {name:'shHEXA.137' + ZW(z), vals:b, errs:be, color:COL.lg, symbol:'triangle', size:5}];
const hexbLines = (cont, ce, a, ae, b, be, z) => [
  {name:'shCONT' + ZW(z), vals:cont, errs:ce, color:'#000', symbol:'circle', size:4.5},
  {name:'shHEXB.928' + ZW(z), vals:a, errs:ae, color:COL.teal, symbol:'rect', size:4},
  {name:'shHEXB.1293' + ZW(z), vals:b, errs:be, color:COL.vio, symbol:'triangle', size:5}];
growthPanel({left:263, top:312, width:96, height:72, ymax:5, interval:1, fmt:intFmt, xgap:12.5, ygap:9.5, title:'1517 GSC', titleY:295.5,
  lines:hexaLines(e1517Cont, e1517ContErr, e1517H900, e1517H900Err, e1517H137, e1517H137Err, 4),
  starsA:e1517StarsA, colA:COL.dg, starsB:e1517StarsB, colB:COL.lg, legTop:311, legPitch:10.5});
growthPanel({left:414, top:313, width:98, height:71, ymax:6, interval:2, fmt:intFmt, xgap:12.5, ygap:7.5, title:'3565 GSC', titleY:295.5,
  lines:hexaLines(e3565Cont, e3565ContErr, e3565H900, e3565H900Err, e3565H137, e3565H137Err, 5),
  starsA:e3565StarsA, colA:COL.dg, starsB:e3565StarsB, colB:COL.lg});
growthPanel({left:570, top:315, width:97, height:69, ymax:20, interval:5, fmt:intFmt, xgap:12.5, ygap:11.5, title:'3691 GSC', titleY:297.5,
  lines:hexaLines(e3691Cont, e3691ContErr, e3691H900, e3691H900Err, e3691H137, e3691H137Err, 6),
  starsA:e3691StarsA, colA:COL.dg, starsB:e3691StarsB, colB:COL.lg});
growthPanel({left:263, top:440, width:96, height:72, ymax:4, interval:1, fmt:intFmt, xgap:14.5, ygap:9.5,
  lines:hexbLines(f1517Cont, f1517ContErr, f1517H928, f1517H928Err, f1517H1293, f1517H1293Err, 7),
  starsA:f1517StarsA, colA:COL.teal, starsB:f1517StarsB, colB:COL.vio, legTop:434, legPitch:10});
growthPanel({left:414, top:441, width:98, height:72, ymax:2, interval:0.5, fmt:oneFmt, xgap:14.5, ygap:12.5,
  lines:hexbLines(f3565Cont, f3565ContErr, f3565H928, f3565H928Err, f3565H1293, f3565H1293Err, 8),
  starsA:f3565StarsA, colA:COL.teal, starsB:f3565StarsB, colB:COL.vio});
growthPanel({left:570, top:441, width:97, height:72, ymax:2.5, interval:0.5, fmt:oneFmt, xgap:14.5, ygap:13.5,
  lines:hexbLines(f3691Cont, f3691ContErr, f3691H928, f3691H928Err, f3691H1293, f3691H1293Err, 9),
  starsA:f3691StarsA, colA:COL.teal, starsB:f3691StarsB, colB:COL.vio});

// ---------------- LDA panels (G, H) ----------------
const dotLineIcon = 'path://M0,2.5L4.6,2.5L4.6,3.5L0,3.5Z M9.4,2.5L14,2.5L14,3.5L9.4,3.5Z M9,3A2,2,0,1,1,5,3A2,2,0,1,1,9,3Z';
function ldaPanel(c) {
  const ymin = -4.08, ymax = 0.17, H = 102;
  const g = addGrid({left:c.left, top:c.top, width:c.width, height:H, show:true, borderColor:'#000', borderWidth:1, backgroundColor:'rgba(0,0,0,0)'});
  const x = addX(vAxis(g, c.xmin, c.xmax, {axisLabel:{customValues:ldaTicksX, margin:c.xm}, axisTick:{customValues:ldaTicksX},
    name:c.xname || '', nameLocation:'middle', nameGap:16}));
  const y = addY(vAxis(g, ymin, ymax, {axisLabel:{customValues:ldaTicksY, rotate:90, margin:2}, axisTick:{customValues:ldaTicksY},
    name:'log fraction\nwithout spheres', nameLocation:'middle', nameGap:12, nameTextStyle:{fontSize:11, lineHeight:14}}));
  const sx = c.width / (c.xmax - c.xmin), sy = H / (ymax - ymin);
  series.push(Object.assign(pathLine(x, y, c.contFit, COL.cont, 1.5, 4), {name:c.names ? c.names[0] : undefined}));
  series.push({type:'scatter', xAxisIndex:x, yAxisIndex:y, symbolSize:3, silent:true, z:5, itemStyle:{color:COL.cont}, data:c.contPts});
  series.push({type:'scatter', xAxisIndex:x, yAxisIndex:y, symbol:'triangle', symbolRotate:180, symbolSize:5, silent:true, z:5, itemStyle:{color:COL.cont}, data:c.contCens});
  c.kd.forEach((k, i) => {
    series.push(Object.assign(pathLine(x, y, k.fit, k.color, 1.5, 4), {name:c.names ? c.names[i + 1] : undefined}));
    series.push({type:'scatter', xAxisIndex:x, yAxisIndex:y, symbolSize:3, silent:true, z:5, itemStyle:{color:k.color}, data:k.pts});
    const p0 = k.conn[0], p1 = k.conn[1];
    const ang = Math.atan2((p1[1] - p0[1]) * sy, (p1[0] - p0[0]) * sx) * 180 / Math.PI;
    series.push({type:'line', xAxisIndex:x, yAxisIndex:y, clip:false, silent:true, z:4, lineStyle:{color:k.color, width:0.7}, itemStyle:{color:k.color},
      data:[{value:p0, symbol:'none'}, {value:p1, symbol:'arrow', symbolSize:[4, 5], symbolRotate:ang - 90}], showAllSymbol:true});
    series.push(starSeries(x, y, [c.stars[i]], '***', k.color, 15, ang));
  });
  if (c.title) text(c.left + c.width / 2 - 4, 562, c.title, 12);
  if (c.names) addLegend({left:537, top:c.top, itemWidth:11, itemHeight:5, icon:dotLineIcon, data:c.names, textStyle:{fontSize:9.5, lineHeight:10}});
}
const gKd = (c900, c137) => [{fit:gH900Fit, pts:gH900Pts, color:COL.dg, conn:c900}, {fit:gH137Fit, pts:gH137Pts, color:COL.lg, conn:c137}];
const hKd = (c928, c1293) => [{fit:hH928Fit, pts:hH928Pts, color:COL.teal, conn:c928}, {fit:hH1293Fit, pts:hH1293Pts, color:COL.vio, conn:c1293}];
ldaPanel({left:52, top:573, width:115, xmin:-2.3, xmax:62.2, xm:2.5, title:'1517 GSC', contFit:g1517ContFit, contPts:g1517ContPts, contCens:g1517ContCens, kd:gKd(g1517Conn900, g1517Conn137), stars:g1517Stars});
ldaPanel({left:233, top:573, width:114, xmin:-2.2, xmax:62, xm:2.5, title:'3565 GSC', contFit:g3565ContFit, contPts:g3565ContPts, contCens:g3565ContCens, kd:gKd(g3565Conn900, g3565Conn137), stars:g3565Stars});
ldaPanel({left:412, top:573, width:115, xmin:-2.2, xmax:62.4, xm:2.5, title:'3691 GSC', contFit:g3691ContFit, contPts:g3691ContPts, contCens:g3691ContCens, kd:gKd(g3691Conn900, g3691Conn137), stars:g3691Stars,
  names:['shCONT' + ZW(10), 'shHEXA.900' + ZW(10), 'shHEXA.137' + ZW(10)]});
ldaPanel({left:52, top:698, width:115, xmin:-2.3, xmax:62.2, xm:3, xname:'Number of cells', contFit:h1517ContFit, contPts:h1517ContPts, contCens:h1517ContCens, kd:hKd(h1517Conn928, h1517Conn1293), stars:h1517Stars});
ldaPanel({left:233, top:698, width:114, xmin:-2.2, xmax:62, xm:3, xname:'Number of cells', contFit:h3565ContFit, contPts:h3565ContPts, contCens:h3565ContCens, kd:hKd(h3565Conn928, h3565Conn1293), stars:h3565Stars});
ldaPanel({left:412, top:698, width:115, xmin:-2.2, xmax:62.4, xm:3, xname:'Number of cells', contFit:h3691ContFit, contPts:h3691ContPts, contCens:h3691ContCens, kd:hKd(h3691Conn928, h3691Conn1293), stars:h3691Stars,
  names:['shCONT' + ZW(11), 'shHEXB.928' + ZW(11), 'shHEXB.1293' + ZW(11)]});

// ---------------- Panel letters ----------------
[['A', 8, 10], ['B', 310, 11], ['C', 558, 10], ['D', 7, 286], ['E', 228, 289], ['F', 228, 430], ['G', 7, 552], ['H', 7, 697]]
  .forEach(([t, x, y]) => text(x, y, t, 16, {weight:'bold'}));

const chart = echarts.init(document.getElementById('c'), null, {renderer:'canvas', width:764, height:834});
chart.setOption({animation:false, backgroundColor:'#fff', textStyle:{fontFamily:FONT},
  grid, xAxis, yAxis, series, legend, graphic});
</script></body></html>
